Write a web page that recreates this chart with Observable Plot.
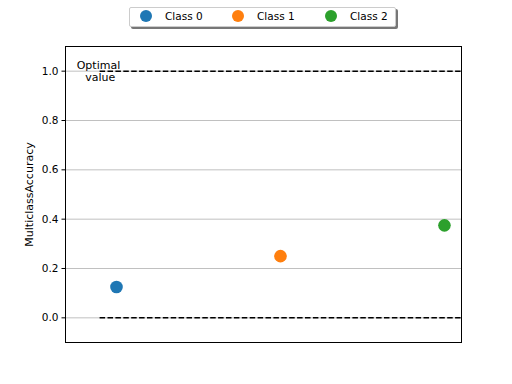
<!DOCTYPE html>
<html><head><meta charset="utf-8">
<script src="https://cdn.jsdelivr.net/npm/d3@7"></script>
<script src="https://cdn.jsdelivr.net/npm/@observablehq/plot@0.6"></script>
<style>
body{margin:0;background:#fff;font-family:"DejaVu Sans",sans-serif;}
#wrap{position:relative;width:512px;height:384px;}
#legend{position:absolute;left:129px;top:7px;width:265px;height:18px;border:1px solid #ccc;background:#fff;border-radius:2px;box-shadow:2px 2px 0 #777;font-size:10.5px;display:flex;align-items:center;}
.item{display:flex;align-items:center;position:absolute;top:2px;}
.dot{width:12px;height:12px;border-radius:50%;display:inline-block;margin-right:13px;}
</style></head>
<body><div id="wrap"><div id="legend"></div></div>
<script>
const classes = ["Class 0", "Class 1", "Class 2"];
const xpos = [0, 1, 2];
const accuracy = [0.125, 0.25, 0.375];
const colors = ["#1f77b4", "#ff7f0e", "#2ca02c"];
const optimal = [1.0, 0.0];
const yTicks = [0, 0.2, 0.4, 0.6, 0.8, 1.0];

const data = classes.map((c, i) => ({cls: c, x: xpos[i], y: accuracy[i]}));

const chart = Plot.plot({
  width: 512, height: 384,
  marginLeft: 65, marginRight: 51, marginTop: 46, marginBottom: 42,
  style: {fontFamily: "DejaVu Sans, sans-serif", fontSize: "10px", color: "#000"},
  x: {domain: [-0.311, 2.104], axis: null},
  y: {domain: [-0.1, 1.1], axis: null},
  color: {domain: classes, range: colors},
  marks: [
    Plot.gridY(yTicks, {stroke: "#b0b0b0", strokeOpacity: 1, strokeWidth: 0.8}),
    Plot.axisY({ticks: yTicks, tickFormat: ".1f", tickSize: 3.5, tickPadding: 3.5, label: null, fontSize: 10.5}),
    Plot.axisY({ticks: [], label: "MulticlassAccuracy", labelAnchor: "center", labelArrow: "none", labelOffset: 40, fontSize: 11}),
    Plot.ruleY(optimal, {x1: -0.1, x2: 2.104, stroke: "#000", strokeWidth: 1.5, strokeDasharray: "5.5,2.4"}),
    Plot.text(["Optimal\n value"], {x: -0.11, y: 1.0, text: d => d, textAnchor: "middle", fontSize: 11, lineHeight: 1.05, fill: "#000"}),
    Plot.dot(data, {x: "x", y: "y", fill: "cls", r: 6.3, stroke: null}),
    Plot.frame({stroke: "#000", strokeWidth: 1})
  ]
});
document.getElementById("wrap").prepend(chart);

const legend = document.getElementById("legend");
const lx = [10, 102, 195];
classes.forEach((c, i) => {
  const it = document.createElement("div");
  it.className = "item";
  it.style.left = lx[i] + "px";
  it.innerHTML = `<span class="dot" style="background:${colors[i]}"></span><span>${c}</span>`;
  legend.appendChild(it);
});
</script></body></html>
